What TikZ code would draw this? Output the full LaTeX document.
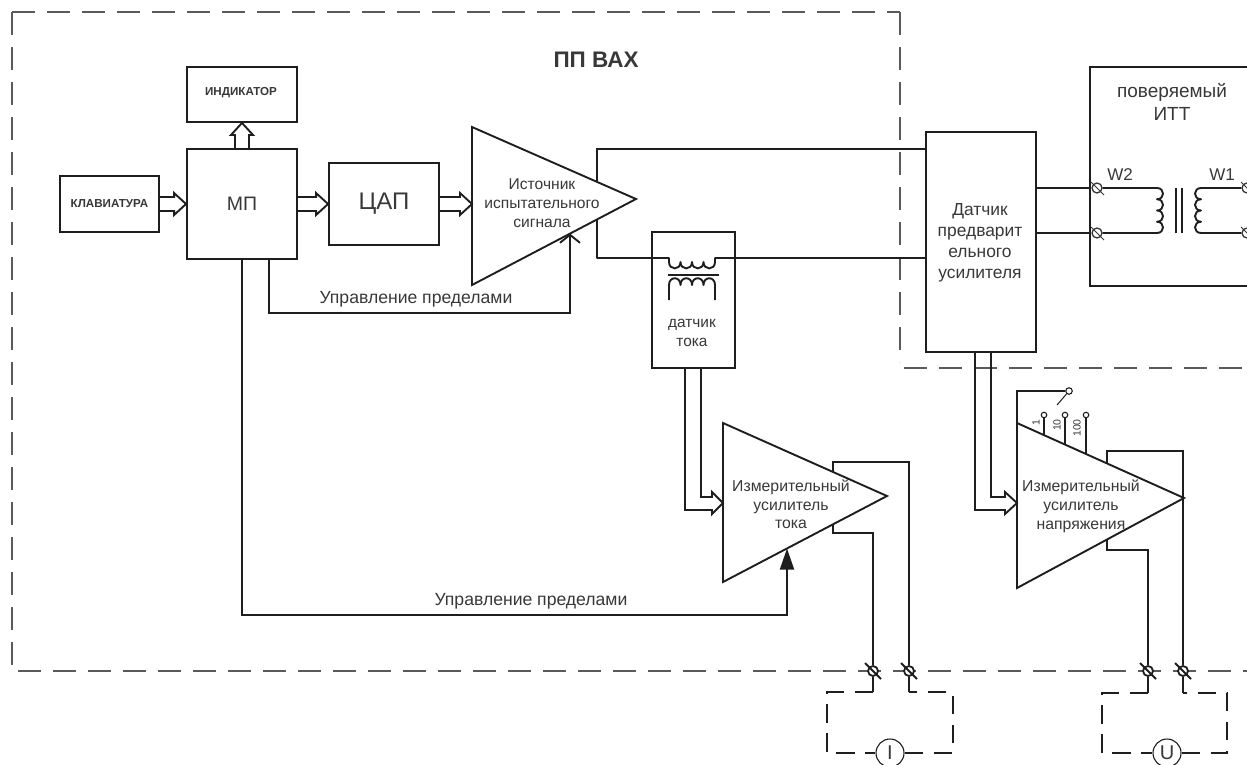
\documentclass[tikz,border=0pt]{standalone}
\usepackage{fontspec}
\setmainfont{Liberation Sans}
\usetikzlibrary{arrows.meta,calc}
\definecolor{ink}{HTML}{1E1E1E}
\definecolor{txt}{HTML}{383838}
\definecolor{frame}{HTML}{5A5A5A}
\newcommand{\fsz}[2]{\fontsize{#1}{#2}\selectfont}
\newcommand{\termin}[2]{\node[terminal] (#1) at (#2) {};
  \draw[wire] ([shift={(-8,-8)}]#1.center) -- ([shift={(8,8)}]#1.center);}
\newcommand{\terminb}[2]{\node[terminal,draw=txt,line width=1.3pt] (#1) at (#2) {};
  \draw[txt,line width=0.8pt] ([shift={(-6,-6)}]#1.center) -- ([shift={(7,7)}]#1.center);}
\tikzset{
  wire/.style={draw=ink,line width=1.9pt,line join=miter},
  block/.style={draw=ink,line width=1.9pt,inner sep=0pt,text=txt,align=center},
  label/.style={text=txt,align=center,inner sep=0pt},
  terminal/.style={circle,draw=ink,fill=white,line width=1.8pt,minimum size=10pt,inner sep=0pt},
  tap/.style={circle,draw=ink,fill=white,line width=1.1pt,minimum size=5.5pt,inner sep=0pt},
  frameline/.style={draw=frame,line width=1.5pt,dash pattern=on 23pt off 12pt},
  meterline/.style={draw=ink,line width=1.9pt,dash pattern=on 18.5pt off 10.5pt},
  meter/.style={circle,draw=ink,fill=white,line width=1.1pt,minimum size=28pt,inner sep=0pt,text=txt},
  bus/.style={to path={
    ($(\tikztostart)!7pt!90:(\tikztotarget)$)
    -- ($(\tikztotarget)!12pt!(\tikztostart)!7pt!90:(\tikztotarget)$)
    -- ($(\tikztotarget)!12pt!(\tikztostart)!11pt!90:(\tikztotarget)$)
    -- (\tikztotarget)
    -- ($(\tikztotarget)!12pt!(\tikztostart)!11pt!-90:(\tikztotarget)$)
    -- ($(\tikztotarget)!12pt!(\tikztostart)!7pt!-90:(\tikztotarget)$)
    -- ($(\tikztostart)!7pt!-90:(\tikztotarget)$)}},
}
\begin{document}
\begin{tikzpicture}[x=1pt,y=-1pt]
\useasboundingbox (0,0) rectangle (1247,764);

% frame
\coordinate (fa) at (900,12);
\coordinate (fb) at (12,12);
\coordinate (fc) at (12,671);
\coordinate (fd) at (1247,671);
\coordinate (fe) at (900,362);
\coordinate (ff) at (904,368);
\coordinate (fg) at (1247,368);
\draw[frameline] (fb) -- (fa);
\draw[frameline] (fa) -- (fe);
\draw[frameline] (fb) -- (fc) -- (fd);
\draw[frameline] (ff) -- (fg);
\node[label,font=\bfseries\fsz{22.5}{24}] (title) at (596,60) {ПП ВАХ};

% blocks
\node[block,minimum width=99pt,minimum height=56pt,font=\bfseries\fsz{11.6}{13}] (kb) at (109.5,204) {КЛАВИАТУРА};
\node[block,minimum width=110pt,minimum height=55pt] (ind) at (242,94.5) {};
\node[label,font=\bfseries\fsz{11.6}{13}] (indt) at (241,93) {ИНДИКАТОР};
\node[block,minimum width=110pt,minimum height=110pt,font=\fsz{19.5}{22}] (mp) at (242,204) {МП};
\node[block,minimum width=110pt,minimum height=82pt,font=\fsz{24}{26}] (dac) at (384,204) {ЦАП};
\node[block,minimum width=110pt,minimum height=220pt] (dp) at (981,242) {};
\node[label,font=\fsz{17.4}{21}] (dpt) at (980,243) {Датчик\\предварит\\ельного\\усилителя};
\node[block,minimum width=83pt,minimum height=136pt] (cs) at (693.5,300) {};
\node[label,font=\fsz{15.4}{19}] (cst) at (692,332.5) {датчик\\тока};
\node[block,minimum width=190pt,minimum height=219pt] (itt) at (1185,176.5) {};
\node[label,font=\fsz{19}{23}] (ittt) at (1172,101.5) {поверяемый\\ИТТ};

% source amplifier
\coordinate (sa) at (472,127);
\coordinate (sb) at (472,285);
\coordinate (sc) at (636,199);
\coordinate (sin) at (472,204);
\coordinate (sout1) at (597,182);
\coordinate (sout2) at (597,219.5);
\coordinate (sctl) at (570,233.6);
\draw[wire] (sa) -- (sc) -- (sb) -- cycle;
\node[label,font=\fsz{15.6}{19}] (st) at (542,203) {Источник\\испытательного\\сигнала};

% current amplifier
\coordinate (ia) at (723,423);
\coordinate (ib) at (723,582);
\coordinate (ic) at (887,496);
\coordinate (iin) at (723,503);
\coordinate (if1) at (833,472);
\coordinate (if2) at (833,524.4);
\coordinate (ictl) at (787,548.5);
\draw[wire] (ia) -- (ic) -- (ib) -- cycle;
\node[label,font=\fsz{15.8}{18.5}] (it) at (791,504.5) {Измерительный\\усилитель\\тока};

% voltage amplifier
\coordinate (va) at (1017,423);
\coordinate (vb) at (1017,588);
\coordinate (vc) at (1184,498);
\coordinate (vin) at (1017,503);
\coordinate (vf1) at (1107,463.4);
\coordinate (vf2) at (1107,539.5);
\draw[wire] (va) -- (vc) -- (vb) -- cycle;
\node[label,font=\fsz{15.8}{19}] (vt) at (1081,506) {Измерительный\\усилитель\\напряжения};

% bus arrows
\draw[wire] (kb.east) to[bus] (mp.west);
\draw[wire] (mp.north) to[bus] (ind.south);
\draw[wire] (mp.east) to[bus] (dac.west);
\draw[wire] (dac.east) to[bus] (sin);

% source output wires through current sensor
\coordinate (pl) at (669,258);
\coordinate (pr) at (715,258);
\draw[wire] (sout1) |- (dp.west |- 0,149);
\draw[wire,line join=round] (sout2) |- (pl) -- ++(0,4)
  .. controls +(0,8.5) and +(0,8.5) .. ++(11.5,0)
  .. controls +(0,8.5) and +(0,8.5) .. ++(11.5,0)
  .. controls +(0,8.5) and +(0,8.5) .. ++(11.5,0)
  .. controls +(0,8.5) and +(0,8.5) .. ++(11.5,0)
  -- (pr) -- (dp.west |- pr);
\coordinate (core1) at (668,275);
\coordinate (core2) at (719,275);
\draw[wire] (core1) -- (core2);
\coordinate (sl) at (669,300);
\draw[wire,line join=round] (sl) -- ++(0,-15)
  .. controls +(0,-9) and +(0,-9) .. ++(11.5,0)
  .. controls +(0,-9) and +(0,-9) .. ++(11.5,0)
  .. controls +(0,-9) and +(0,-9) .. ++(11.5,0)
  .. controls +(0,-9) and +(0,-9) .. ++(11.5,0)
  -- ++(0,15);

% control lines
\node[label,font=\fsz{17.6}{20}] (cl1) at (416,299) {Управление пределами};
\node[label,font=\fsz{17.6}{20}] (cl2) at (531,601) {Управление пределами};
\draw[wire,-{Straight Barb[length=8pt,width=20pt]}] ([xshift=27pt]mp.south) |- (570,313) -- (sctl);
\draw[wire,-{Triangle[length=21pt,width=14pt]}] (mp.south) |- (787,615) -- (ictl);

% current sensor to current amplifier
\draw[wire] ([xshift=-8.5pt]cs.south) |- ($(iin)+(-11,7)$) -- ($(iin)+(-11,11)$) -- (iin)
  -- ($(iin)+(-11,-11)$) -- ($(iin)+(-11,-6)$) -| ([xshift=7.5pt]cs.south);

% preamplifier to voltage amplifier
\draw[wire] ([xshift=-6pt]dp.south) |- ($(vin)+(-12,7)$) -- ($(vin)+(-12,11)$) -- (vin)
  -- ($(vin)+(-12,-11)$) -- ($(vin)+(-12,-6)$) -| ([xshift=10pt]dp.south);

% terminals below frame
\termin{t1}{873,671}
\termin{t2}{909,671}
\termin{t3}{1148,671}
\termin{t4}{1183,671}
\draw[wire] (if1) |- (909,462) -- (t2);
\draw[wire] (if2) |- (873,533) -- (t1);
\draw[wire] (vf1) |- (1183,451) -- (t4);
\draw[wire] (vf2) |- (1148,550) -- (t3);

% meters
\node[meter,font=\fsz{20}{20}] (mi) at (890,753) {I};
\node[meter,font=\fsz{20}{20}] (mu) at (1167,753) {U};
\coordinate (i1) at (873,692);
\coordinate (i2) at (827,692);
\coordinate (i3) at (827,753);
\coordinate (i4) at (953,753);
\coordinate (i5) at (953,692);
\coordinate (i6) at (909,692);
\draw[wire] (t1) -- (i1);
\draw[wire] (t2) -- (i6);
\draw[meterline] (i1) -- (i2) -- (i3) -- (mi);
\draw[meterline] (mi) -- (i4) -- (i5) -- (i6);
\coordinate (u1) at (1148,693);
\coordinate (u2) at (1102,693);
\coordinate (u3) at (1102,753);
\coordinate (u4) at (1227,753);
\coordinate (u5) at (1227,693);
\coordinate (u6) at (1183,693);
\draw[wire] (t3) -- (u1);
\draw[wire] (t4) -- (u6);
\draw[meterline] (u1) -- (u2) -- (u3) -- (mu);
\draw[meterline] (mu) -- (u4) -- (u5) -- (u6);

% range switch
\node[tap,minimum size=6.5pt] (sw) at (1069,391) {};
\coordinate (swl) at (1057,405);
\draw[draw=ink,line width=1.2pt] (va) |- (sw);
\draw[draw=ink,line width=1pt] (sw) -- (swl);
\node[tap] (r1) at (1044,415) {};
\node[tap] (r2) at (1065,415) {};
\node[tap] (r3) at (1086,415) {};
\coordinate (e1) at (1044,435);
\coordinate (e2) at (1065,444.5);
\coordinate (e3) at (1086,454);
\draw[draw=ink,line width=1.1pt] (r1) -- (e1);
\draw[draw=ink,line width=1.1pt] (r2) -- (e2);
\draw[draw=ink,line width=1.1pt] (r3) -- (e3);
\node[label,rotate=90,font=\fsz{10.5}{10}] (l1) at (1036,423) {1};
\node[label,rotate=90,font=\fsz{10.5}{10}] (l10) at (1057,425) {10};
\node[label,rotate=90,font=\fsz{10.5}{10}] (l100) at (1077,428) {100};

% tested transformer
\terminb{w2a}{1097,188}
\terminb{w2b}{1097,233}
\terminb{w1a}{1247,188}
\terminb{w1b}{1247,233}
\draw[wire] (dp.east |- w2a) -- (w2a);
\draw[wire] (dp.east |- w2b) -- (w2b);
\coordinate (c2a) at (1157,188);
\coordinate (c1a) at (1201,188);
\draw[wire,line join=round] (w2a) -- (c2a)
  .. controls +(8,0) and +(8,0) .. ++(0,11.25)
  .. controls +(8,0) and +(8,0) .. ++(0,11.25)
  .. controls +(8,0) and +(8,0) .. ++(0,11.25)
  .. controls +(8,0) and +(8,0) .. ++(0,11.25)
  -- (w2b);
\draw[wire,line join=round] (w1a) -- (c1a)
  .. controls +(-8,0) and +(-8,0) .. ++(0,11.25)
  .. controls +(-8,0) and +(-8,0) .. ++(0,11.25)
  .. controls +(-8,0) and +(-8,0) .. ++(0,11.25)
  .. controls +(-8,0) and +(-8,0) .. ++(0,11.25)
  -- (w1b);
\coordinate (k1a) at (1176,188);
\coordinate (k1b) at (1176,233);
\coordinate (k2a) at (1182,188);
\coordinate (k2b) at (1182,233);
\draw[wire] (k1a) -- (k1b);
\draw[wire] (k2a) -- (k2b);
\node[label,font=\fsz{17}{17}] (w2) at (1120,175) {W2};
\node[label,font=\fsz{17}{17}] (w1) at (1222,175) {W1};
\end{tikzpicture}
\end{document}
